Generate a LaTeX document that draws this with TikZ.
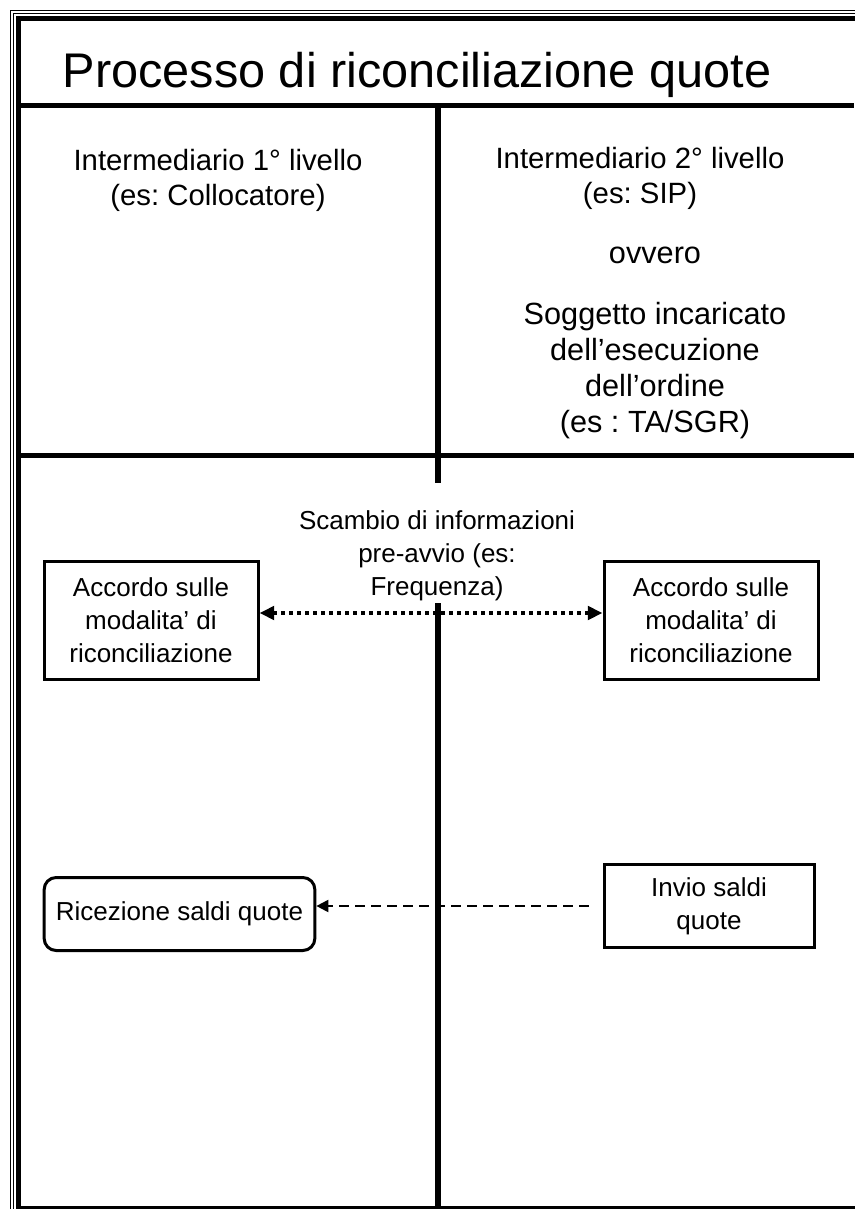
\documentclass[tikz,border=0pt]{standalone}
\usepackage{fontspec}
\setmainfont{Liberation Sans}
\usetikzlibrary{arrows.meta}
\frenchspacing

\begin{document}
\begin{tikzpicture}[x=0.75pt,y=-0.75pt,
  thinrule/.style={line width=0.8pt},
  heavyrule/.style={line width=3.75pt},
  divider/.style={line width=4.5pt},
  titletext/.style={font=\fontsize{36.5}{42}\selectfont, anchor=base},
  headtext/.style={font=\fontsize{22}{26.25}\selectfont, align=center, anchor=base},
  smalltext/.style={font=\fontsize{19.5}{24.75}\selectfont, align=center},
  stepbox/.style={draw, line width=2.25pt, smalltext, inner sep=0pt},
  roundbox/.style={stepbox, rounded corners=9pt},
  dotarrow/.style={line width=3pt, dash pattern=on 3pt off 3pt,
    {Triangle[length=11pt,width=10pt]}-{Triangle[length=11pt,width=10pt]}},
  dasharrow/.style={line width=1.5pt, dash pattern=on 7pt off 5pt,
    -{Triangle[length=9pt,width=9pt]}}
]
\useasboundingbox (0,0) rectangle (854,1209);

% outer double frame
\draw[thinrule] (10.5,1212) -- (10.5,10.5) -- (858,10.5);
\draw[thinrule] (13.5,1212) -- (13.5,13.5) -- (858,13.5);
\draw[heavyrule] (18.5,1212) -- (18.5,18.5) -- (858,18.5);
\draw[heavyrule] (16,1208.5) -- (858,1208.5);

% grid rules
\draw[heavyrule] (21,105.5) -- (854,105.5);
\draw[heavyrule] (21,455) -- (854,455);
\draw[divider] (438,105) -- (438,483);
\draw[divider] (438,603) -- (438,1209);

% title
\node[titletext] (title) at (417,88) {Processo di riconciliazione quote};

% column headers (anchor base = baseline of the last line)
\node[headtext] (hleft) at (218,205) {Intermediario 1° livello\\(es: Collocatore)};
\node[headtext] (hright) at (640,203) {Intermediario 2° livello\\(es: SIP)};
\node[headtext, font=\fontsize{23}{27}\selectfont] (hor) at (655,263) {ovvero};
\node[headtext, font=\fontsize{23}{27}\selectfont] (hsogg) at (655,432)
  {Soggetto incaricato\\dell’esecuzione\\dell’ordine\\(es : TA/SGR)};

% exchange label
\node[smalltext, anchor=base] (scambio) at (437,595)
  {Scambio di informazioni\\pre-avvio (es:\\Frequenza)};

% process boxes
\node[stepbox, minimum width=160.5pt, minimum height=88.5pt] (accL) at (151,620)
  {Accordo sulle\\modalita’ di\\riconciliazione};
\node[stepbox, minimum width=160.5pt, minimum height=88.5pt] (accR) at (711,620)
  {Accordo sulle\\modalita’ di\\riconciliazione};
\node[stepbox, minimum width=157.5pt, minimum height=62.25pt] (invio) at (709,906)
  {Invio saldi\\quote};
\node[roundbox, minimum width=203pt, minimum height=54.75pt] (ricez) at (179.5,914)
  {Ricezione saldi quote};

% connectors
\draw[dotarrow] ([yshift=5.25pt]accL.east) -- ([yshift=5.25pt]accR.west);
\draw[dasharrow] ([xshift=-10.5pt]invio.west) -- (ricez.east |- invio.west);
\end{tikzpicture}
\end{document}
